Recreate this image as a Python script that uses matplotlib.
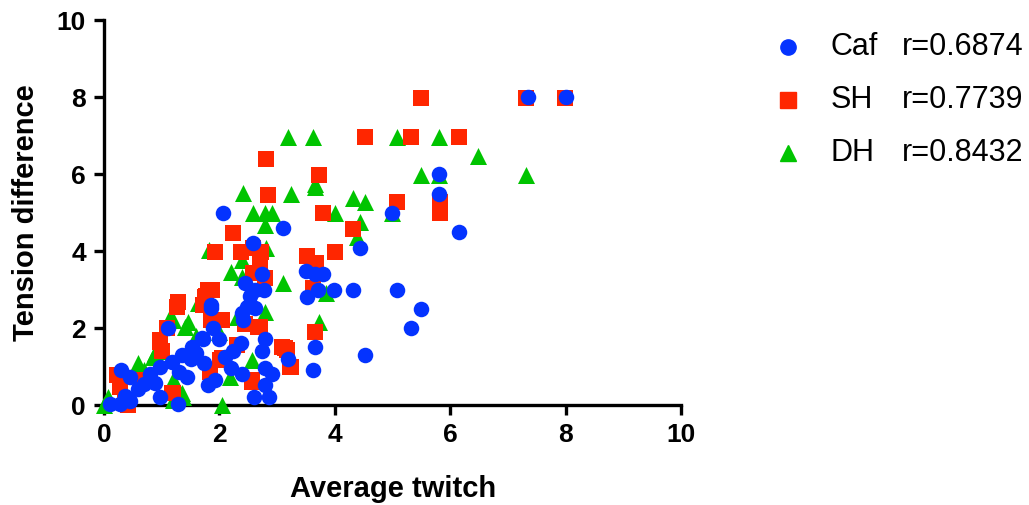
import matplotlib.pyplot as plt
from matplotlib.lines import Line2D

plt.rcParams['font.family'] = ['Liberation Sans', 'DejaVu Sans']

# Caf (blue circles)
caf_x = [0.10, 0.28, 0.36, 0.29, 0.45, 0.59, 0.80, 0.88, 0.97, 0.97, 1.18, 1.11, 1.28, 1.35,
         1.44, 1.53, 1.70, 1.72, 1.73, 1.80, 1.85, 1.85, 1.89, 1.92, 1.99, 2.06, 2.20, 2.24,
         2.37, 2.39, 2.39, 2.41, 2.44, 2.47, 2.53, 2.58, 2.60, 2.62, 2.62, 2.74, 2.74, 2.77,
         2.79, 2.79, 2.79, 2.86, 2.91, 3.10, 3.19, 3.50, 3.52, 3.62, 3.66, 3.66, 3.71, 3.80,
         3.99, 4.32, 4.44, 4.52, 4.99, 5.08, 5.32, 5.49, 5.81, 5.81, 6.15, 7.35, 8.00,
         0.45, 1.30, 1.50, 2.10, 0.70, 1.60]
caf_y = [0.03, 0.03, 0.23, 0.91, 0.73, 0.42, 0.81, 0.57, 0.21, 1.00, 1.12, 2.00, 0.03, 1.30,
         0.73, 1.51, 1.74, 1.71, 1.10, 0.52, 2.60, 2.52, 2.00, 0.65, 1.71, 4.99, 0.96, 1.41,
         1.60, 0.81, 2.38, 2.20, 3.17, 2.55, 2.83, 4.20, 0.21, 2.52, 2.99, 1.41, 3.40, 3.00,
         1.71, 0.96, 0.52, 0.21, 0.81, 4.60, 1.20, 3.48, 2.80, 0.90, 3.40, 1.50, 2.99, 3.40,
         2.99, 2.99, 4.08, 1.30, 4.99, 2.99, 2.00, 2.49, 6.00, 5.48, 4.49, 8.00, 8.00,
         0.10, 0.85, 1.20, 1.25, 0.55, 1.35]

# SH (red squares)
sh_x = [0.23, 0.28, 0.42, 0.36, 0.66, 0.97, 0.97, 1.18, 1.20, 1.27, 1.28, 1.75, 1.77, 1.80,
        1.87, 1.72, 1.84, 2.01, 2.05, 2.05, 1.92, 2.24, 2.37, 2.56, 2.57, 2.58, 2.58, 2.67,
        2.70, 2.70, 2.72, 2.79, 2.84, 2.80, 3.08, 3.14, 3.17, 3.22, 3.24, 3.52, 3.62, 3.66,
        3.67, 3.73, 3.80, 4.00, 4.32, 4.52, 5.08, 5.32, 5.49, 5.82, 5.82, 6.15, 7.31, 7.99,
        1.10, 1.85, 2.45, 1.00, 2.30]
sh_y = [0.78, 0.47, 0.00, 0.05, 0.65, 1.69, 1.64, 0.31, 0.31, 2.55, 2.68, 2.80, 2.83, 2.99,
        3.00, 2.60, 0.86, 1.17, 1.22, 2.20, 3.97, 4.47, 3.97, 0.60, 0.65, 4.08, 3.43, 2.03,
        2.03, 3.71, 3.97, 3.30, 5.45, 6.40, 1.51, 1.48, 1.43, 1.00, 1.00, 3.87, 3.04, 1.90,
        3.68, 5.97, 4.99, 3.97, 4.57, 6.96, 5.27, 6.96, 7.97, 5.27, 4.99, 6.96, 7.97, 7.97,
        2.00, 2.20, 2.10, 1.40, 1.55]

# DH (green triangles)
dh_x = [0.00, 0.07, 0.59, 0.59, 0.85, 0.88, 1.14, 1.20, 1.20, 1.23, 1.20, 1.35, 1.37, 1.40,
        1.46, 1.63, 1.82, 2.05, 2.18, 2.20, 2.39, 2.39, 2.41, 2.57, 2.58, 2.79, 2.79, 2.79,
        2.81, 2.91, 3.10, 3.19, 3.24, 3.62, 3.66, 3.66, 3.73, 3.85, 4.00, 4.32, 4.38, 4.44,
        4.52, 4.99, 5.08, 5.49, 5.81, 5.81, 6.48, 7.31,
        0.70, 1.00, 1.60, 2.00, 2.30]
dh_y = [0.00, 0.21, 0.99, 1.09, 1.25, 1.35, 2.29, 2.20, 0.65, 0.57, 0.13, 0.31, 0.21, 2.03,
        2.16, 2.65, 4.03, 0.00, 0.73, 3.45, 3.77, 3.32, 5.50, 1.17, 4.98, 4.98, 4.68, 2.42,
        4.08, 4.98, 3.17, 6.96, 5.48, 6.96, 5.67, 5.75, 2.16, 2.90, 4.99, 5.38, 4.36, 4.75,
        5.27, 4.99, 6.96, 5.97, 6.96, 5.97, 6.47, 5.97,
        0.90, 1.40, 1.80, 1.90, 2.30]

groups = ['Caf', 'SH', 'DH']
r_values = ['r=0.6874', 'r=0.7739', 'r=0.8432']
colors = ['#0433FF', '#FF2600', '#00C400']
markers = ['o', 's', '^']

fig = plt.figure(figsize=(10.29, 5.05), dpi=100)
ax = fig.add_axes([0.101, 0.198, 0.561, 0.762])

ax.scatter(dh_x, dh_y, marker='^', s=150, color=colors[2], linewidths=0, zorder=3, clip_on=False)
ax.scatter(sh_x, sh_y, marker='s', s=130, color=colors[1], linewidths=0, zorder=4, clip_on=False)
ax.scatter(caf_x, caf_y, marker='o', s=125, color=colors[0], linewidths=0, zorder=5, clip_on=False)

ax.set_xlim(0, 10)
ax.set_ylim(0, 10)
ax.set_xticks(range(0, 11, 2))
ax.set_yticks(range(0, 11, 2))
for s in ['top', 'right']:
    ax.spines[s].set_visible(False)
for s in ['left', 'bottom']:
    ax.spines[s].set_linewidth(2.4)
ax.tick_params(width=2.4, length=7, labelsize=19, direction='out', pad=6)
for lab in ax.get_xticklabels() + ax.get_yticklabels():
    lab.set_fontweight('bold')

ax.set_xlabel('Average twitch', fontsize=21, fontweight='bold', labelpad=20)
ax.set_ylabel('Tension difference', fontsize=21, fontweight='bold', labelpad=12)

# legend drawn by hand
ys = [0.907, 0.802, 0.697]
for g, r, c, m, yy in zip(groups, r_values, colors, markers, ys):
    fig.add_artist(Line2D([0.766], [yy], marker=m, color=c, markersize=11,
                          linestyle='none', transform=fig.transFigure))
    fig.text(0.807, yy, g, fontsize=22, va='center', ha='left')
    fig.text(0.876, yy, r, fontsize=22, va='center', ha='left')

fig.savefig('out.png', dpi=100)
